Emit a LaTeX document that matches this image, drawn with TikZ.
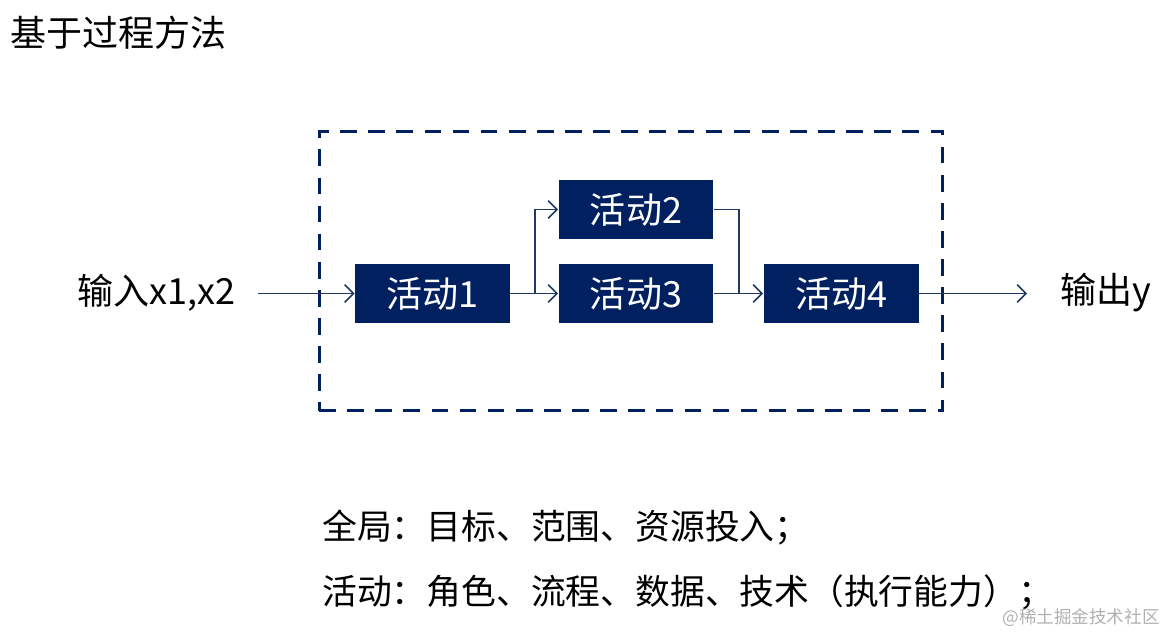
\documentclass[tikz,border=0pt]{standalone}
\usepackage{fontspec}
\setmainfont{Noto Sans CJK SC}
\usetikzlibrary{arrows.meta}
\definecolor{navy}{HTML}{002060}
\definecolor{linec}{HTML}{1F3864}
\definecolor{wmark}{HTML}{B0B0B0}
\begin{document}
\begin{tikzpicture}[x=0.02cm,y=-0.02cm,
  actbox/.style={fill=navy,text=white,minimum width=3.1cm,minimum height=1.18cm,inner sep=0pt,font=\fontsize{20.5}{22}\selectfont},
  conn/.style={draw=linec,line width=0.9pt,-{Straight Barb[length=5pt,width=10pt]}},
  plain/.style={draw=linec,line width=0.9pt},
  lbl/.style={font=\fontsize{20.5}{24}\selectfont,inner sep=0pt},
  frame/.style={draw=navy,line width=1.7pt,dash pattern=on 9.5pt off 6.5pt,minimum width=12.48cm,minimum height=5.6cm,inner sep=0pt}]
\useasboundingbox (0,0) rectangle (1165,632);
\node[lbl,anchor=west] (title) at (10,33) {基于过程方法};
\node[frame] (box) at (631,271) {};
\node[actbox] (a1) at (432.5,293.5) {活动1};
\node[actbox] (a2) at (636,209.5) {活动2};
\node[actbox] (a3) at (636,293.5) {活动3};
\node[actbox] (a4) at (841,293.5) {活动4};
\node[lbl,anchor=east] (in) at (236,293) {输入x1,x2};
\node[lbl,anchor=west] (out) at (1060,293) {输出y};
\coordinate (b1) at (535,293.5);
\coordinate (b2) at (739,293.5);
\coordinate (oend) at (1027,293.5);
\draw[conn] ([xshift=0.44cm]in.east |- a1.west) -- (a1.west);
\draw[conn] (a1.east) -- (a3.west);
\draw[conn] (b1) |- (a2.west);
\draw[plain] (a2.east) -| (b2);
\draw[conn] (a3.east) -- (a4.west);
\draw[conn] (a4.east) -- (oend);
\node[lbl,anchor=west,font=\fontsize{19.8}{24}\selectfont] (l1) at (322,527) {全局：目标、范围、资源投入；};
\node[lbl,anchor=west,font=\fontsize{19.8}{24}\selectfont] (l2) at (322,592) {活动：角色、流程、数据、技术（执行能力）；};
\node[inner sep=0pt,anchor=east,text=wmark,font=\fontsize{10}{12}\selectfont] (wm) at (1160,618) {@稀土掘金技术社区};
\end{tikzpicture}
\end{document}
